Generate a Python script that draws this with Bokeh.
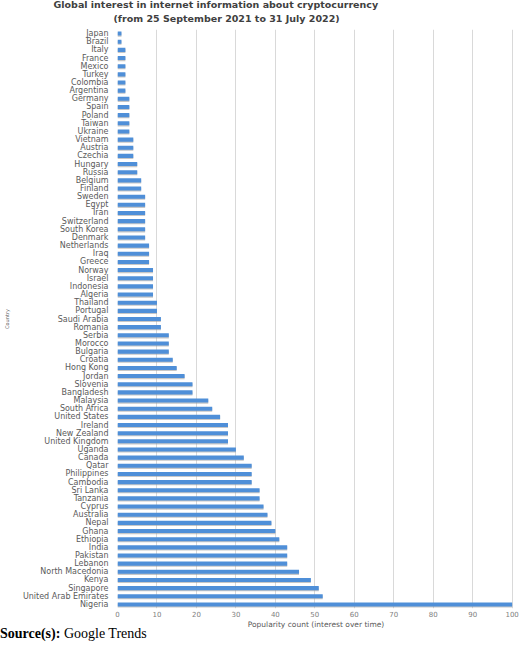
from bokeh.plotting import figure
from bokeh.models import ColumnDataSource, Range1d, FactorRange, FixedTicker, Title, Div
from bokeh.transform import dodge
from bokeh.layouts import column
from bokeh.embed import file_html
from bokeh.resources import INLINE

countries = ["Japan", "Brazil", "Italy", "France", "Mexico", "Turkey", "Colombia", "Argentina",
             "Germany", "Spain", "Poland", "Taiwan", "Ukraine", "Vietnam", "Austria", "Czechia",
             "Hungary", "Russia", "Belgium", "Finland", "Sweden", "Egypt", "Iran", "Switzerland",
             "South Korea", "Denmark", "Netherlands", "Iraq", "Greece", "Norway", "Israel",
             "Indonesia", "Algeria", "Thailand", "Portugal", "Saudi Arabia", "Romania", "Serbia",
             "Morocco", "Bulgaria", "Croatia", "Hong Kong", "Jordan", "Slovenia", "Bangladesh",
             "Malaysia", "South Africa", "United States", "Ireland", "New Zealand",
             "United Kingdom", "Uganda", "Canada", "Qatar", "Philippines", "Cambodia",
             "Sri Lanka", "Tanzania", "Cyprus", "Australia", "Nepal", "Ghana", "Ethiopia",
             "India", "Pakistan", "Lebanon", "North Macedonia", "Kenya", "Singapore",
             "United Arab Emirates", "Nigeria"]
popularity = [1, 1, 2, 2, 2, 2, 2, 2,
              3, 3, 3, 3, 3, 4, 4, 4,
              5, 5, 6, 6, 7, 7, 7, 7,
              7, 7, 8, 8, 8, 9, 9,
              9, 9, 10, 10, 11, 11, 13,
              13, 13, 14, 15, 17, 19, 19,
              23, 24, 26, 28, 28,
              28, 30, 32, 34, 34, 34,
              36, 36, 37, 38, 39, 40, 41,
              43, 43, 43, 46, 49, 51,
              52, 100]
xticks = [0, 10, 20, 30, 40, 50, 60, 70, 80, 90, 100]

title_line1 = "Global interest in internet information about cryptocurrency"
title_line2 = "(from 25 September 2021 to 31 July 2022)"

src = ColumnDataSource(dict(country=countries, value=popularity))

p = figure(width=520, height=632, output_backend="svg", toolbar_location=None,
           y_range=FactorRange(factors=list(reversed(countries)), range_padding=0),
           x_range=Range1d(0, 100.6),
           min_border_left=116, min_border_right=6, min_border_top=29, min_border_bottom=24)
p.outline_line_color = None
p.background_fill_color = "white"

p.hbar(y=dodge("country", -0.13, range=p.y_range), right="value", left=0, height=0.5,
       source=src, fill_color="#9a9a9a", fill_alpha=0.55, line_color=None)
p.hbar(y="country", right="value", left=0, height=0.5, source=src,
       fill_color="#4f8fd8", line_color=None)

p.ygrid.grid_line_color = None
p.xgrid.grid_line_color = "#d9d9d9"
p.xgrid.grid_line_width = 1

p.xaxis.ticker = FixedTicker(ticks=xticks)
p.xaxis.axis_line_color = None
p.xaxis.major_tick_line_color = None
p.xaxis.minor_tick_line_color = None
p.xaxis.major_tick_out = 0
p.xaxis.major_tick_in = 0
p.xaxis.minor_tick_out = 0
p.xaxis.major_label_text_font = "DejaVu Sans"
p.xaxis.major_label_text_font_size = "7px"
p.xaxis.major_label_text_color = "#808080"
p.xaxis.major_label_standoff = 2
p.xaxis.axis_label = "Popularity count (interest over time)"
p.xaxis.axis_label_text_font = "DejaVu Sans"
p.xaxis.axis_label_text_font_size = "7.5px"
p.xaxis.axis_label_text_font_style = "normal"
p.xaxis.axis_label_text_color = "#595959"
p.xaxis.axis_label_standoff = 0

p.yaxis.axis_line_color = None
p.yaxis.major_tick_line_color = None
p.yaxis.minor_tick_line_color = None
p.yaxis.major_tick_out = 0
p.yaxis.major_tick_in = 0
p.yaxis.minor_tick_out = 0
p.yaxis.major_label_text_font = "DejaVu Sans"
p.yaxis.major_label_text_font_size = "8px"
p.yaxis.major_label_text_color = "#5a5a5a"
p.yaxis.major_label_standoff = 9
p.yaxis.axis_label = "Country"
p.yaxis.axis_label_text_font = "DejaVu Sans"
p.yaxis.axis_label_text_font_size = "5px"
p.yaxis.axis_label_text_font_style = "normal"
p.yaxis.axis_label_text_color = "#595959"
p.yaxis.axis_label_standoff = 10

p.add_layout(Title(text=title_line2, align="left", offset=-4, standoff=11,
                   text_font="DejaVu Sans", text_font_size="9.5px", text_font_style="bold",
                   text_color="#404040"), "above")
p.add_layout(Title(text=title_line1, align="left", offset=-64, standoff=-8,
                   text_font="DejaVu Sans", text_font_size="9.5px", text_font_style="bold",
                   text_color="#404040"), "above")

source_div = Div(text='<div style="font-family:\'Liberation Serif\'; font-size:14px; '
                      'line-height:15px; color:#000; white-space:nowrap;">'
                      '<b>Source(s):</b> Google Trends</div>', width=520, height=15,
                 margin=(-6, 0, 0, 0))

layout = column(p, source_div)
open("out.html", "w").write(file_html(layout, INLINE))
